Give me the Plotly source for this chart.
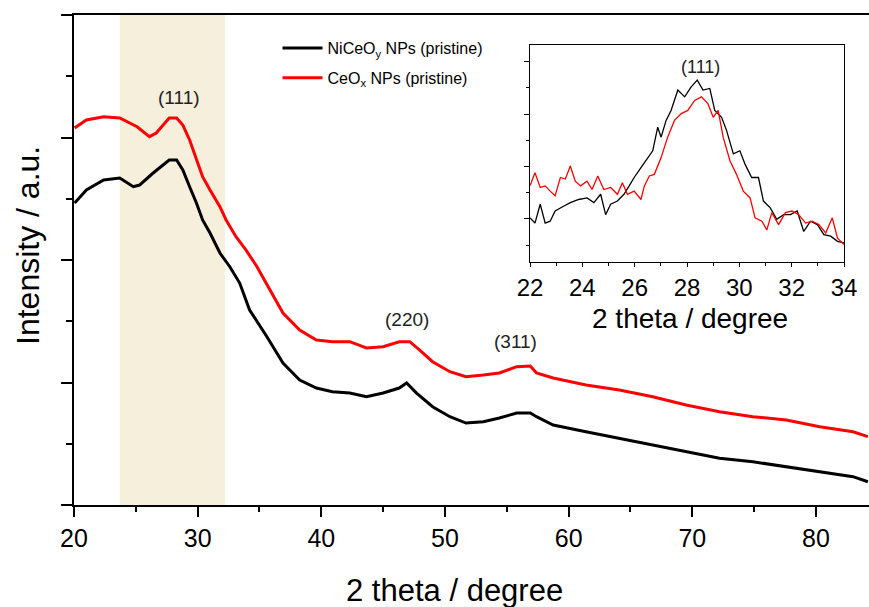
import plotly.graph_objects as go

# ---------------- data ----------------
# Main pattern: 2-theta (degree) and intensity (a.u.)
main_tt_red = [20.05, 21.0, 22.4, 23.7, 25.1, 26.1, 26.65, 27.7, 28.3, 28.8, 29.35, 29.9,
               30.4, 31.0, 31.8, 32.3, 33.1, 33.9, 34.8, 35.6, 36.9, 38.25, 39.6, 40.9,
               42.3, 43.65, 45.0, 46.3, 47.15, 47.96, 49.0, 50.4, 51.7, 53.1, 54.4, 55.8,
               56.9, 57.4, 58.75, 61.4, 64.1, 66.8, 69.5, 72.2, 74.9, 77.6, 80.3, 83.0, 84.2]
main_int_red = [3.078, 3.143, 3.170, 3.159, 3.088, 3.007, 3.037, 3.159, 3.159, 3.102, 2.980, 2.816,
                2.680, 2.571, 2.435, 2.327, 2.190, 2.082, 1.945, 1.800, 1.567, 1.429, 1.347, 1.333,
                1.333, 1.282, 1.292, 1.333, 1.333, 1.265, 1.170, 1.088, 1.047, 1.061, 1.078, 1.129,
                1.135, 1.078, 1.037, 0.980, 0.939, 0.884, 0.816, 0.762, 0.721, 0.694, 0.639, 0.598, 0.558]

main_tt_black = [20.05, 21.0, 22.4, 23.7, 24.8, 25.3, 26.4, 27.7, 28.3, 28.8, 29.35, 29.9,
                 30.4, 31.0, 31.8, 32.6, 33.4, 34.2, 35.6, 36.9, 38.25, 39.6, 40.9, 42.3,
                 43.65, 45.0, 46.3, 46.9, 47.7, 49.0, 50.4, 51.7, 53.1, 54.4, 55.8, 56.9,
                 57.4, 58.75, 61.4, 64.1, 66.8, 69.5, 72.2, 74.9, 77.6, 80.3, 83.0, 84.2]
main_int_black = [2.465, 2.571, 2.653, 2.669, 2.598, 2.612, 2.710, 2.816, 2.816, 2.735, 2.598, 2.465,
                  2.327, 2.220, 2.057, 1.945, 1.812, 1.592, 1.374, 1.159, 1.020, 0.955, 0.925, 0.914,
                  0.884, 0.914, 0.955, 0.996, 0.914, 0.802, 0.721, 0.669, 0.680, 0.710, 0.751, 0.751,
                  0.721, 0.653, 0.598, 0.544, 0.490, 0.435, 0.381, 0.353, 0.313, 0.272, 0.231, 0.190]

# Inset (zoom on the (111) reflection)
inset_tt_black = [22.0, 22.19, 22.39, 22.58, 22.77, 22.96, 23.28, 23.54, 23.86, 24.18, 24.44, 24.70,
                  24.89, 25.08, 25.34, 25.59, 25.79, 25.98, 26.24, 26.43, 26.69, 26.88, 27.01, 27.20,
                  27.39, 27.65, 27.91, 28.16, 28.39, 28.61, 28.87, 29.06, 29.32, 29.51, 29.77, 30.02,
                  30.22, 30.47, 30.73, 30.92, 31.18, 31.43, 31.69, 31.95, 32.21, 32.46, 32.72, 32.98,
                  33.23, 33.49, 33.75, 34.0]
inset_int_black = [1.02, 0.92, 1.28, 0.92, 0.955, 1.15, 1.24, 1.31, 1.37, 1.40, 1.31, 1.47,
                   1.08, 1.28, 1.34, 1.47, 1.63, 1.79, 1.98, 2.11, 2.30, 2.75, 2.56, 2.88,
                   3.07, 3.46, 3.33, 3.52, 3.65, 3.46, 3.49, 3.07, 2.94, 2.69, 2.24, 2.30,
                   2.04, 1.79, 1.79, 1.34, 1.21, 0.99, 1.08, 1.08, 1.15, 0.76, 0.955, 0.89,
                   0.70, 0.67, 0.57, 0.54]

inset_tt_red = [22.0, 22.19, 22.39, 22.58, 22.77, 22.96, 23.16, 23.35, 23.54, 23.73, 23.93, 24.18,
                24.37, 24.59, 24.82, 25.08, 25.34, 25.53, 25.72, 25.98, 26.24, 26.37, 26.56, 26.75,
                27.01, 27.26, 27.52, 27.78, 28.03, 28.29, 28.55, 28.80, 29.00, 29.19, 29.38, 29.64,
                29.89, 30.15, 30.41, 30.60, 30.86, 31.05, 31.24, 31.50, 31.76, 32.01, 32.27, 32.53,
                32.78, 33.04, 33.30, 33.55, 33.75, 34.0]
inset_int_red = [1.63, 1.88, 1.60, 1.63, 1.53, 1.44, 1.79, 1.76, 2.01, 1.72, 1.63, 1.72,
                 1.56, 1.82, 1.56, 1.60, 1.47, 1.69, 1.47, 1.53, 1.37, 1.63, 1.82, 1.85,
                 2.17, 2.56, 2.88, 3.01, 3.07, 3.26, 3.33, 3.20, 2.94, 3.07, 2.56, 2.11,
                 1.85, 1.53, 1.40, 1.02, 0.955, 0.79, 1.12, 0.89, 1.12, 1.15, 1.08, 0.92,
                 0.955, 0.89, 0.73, 1.02, 0.63, 0.51]

series_names = ["NiCeO<sub>y</sub> NPs (pristine)", "CeO<sub>x</sub> NPs (pristine)"]
peak_labels = ["(111)", "(220)", "(311)"]
peak_pos = [28.46, 46.95, 55.7]
peak_lvl = [3.33, 1.513, 1.333]
main_xticks = [20, 30, 40, 50, 60, 70, 80]
inset_xticks = [22, 24, 26, 28, 30, 32, 34]
highlight_band = [23.7, 32.2]

FONT = "Liberation Sans, Arial, sans-serif"
BEIGE = "#F5EFDC"

fig = go.Figure()

fig.add_trace(go.Scatter(x=main_tt_black, y=main_int_black, mode="lines",
                         line=dict(color="black", width=3),
                         name=series_names[0], legendgroup="a"))
fig.add_trace(go.Scatter(x=main_tt_red, y=main_int_red, mode="lines",
                         line=dict(color="#FF0000", width=3),
                         name=series_names[1], legendgroup="b"))
fig.add_trace(go.Scatter(x=inset_tt_black, y=inset_int_black, mode="lines",
                         line=dict(color="black", width=1.3), xaxis="x2", yaxis="y2",
                         showlegend=False))
fig.add_trace(go.Scatter(x=inset_tt_red, y=inset_int_red, mode="lines",
                         line=dict(color="#FF0000", width=1.3), xaxis="x2", yaxis="y2",
                         showlegend=False))

# shaded band and inset background
fig.add_shape(type="rect", xref="x", yref="y domain", x0=highlight_band[0], x1=highlight_band[1],
              y0=0, y1=1, fillcolor=BEIGE, line=dict(width=0), layer="below")
fig.add_shape(type="rect", xref="x2 domain", yref="y2 domain", x0=0, x1=1, y0=0, y1=1,
              fillcolor=BEIGE, line=dict(width=0), layer="below")

# peak labels
for lab, px, py in zip(peak_labels, peak_pos, peak_lvl):
    fig.add_annotation(x=px, y=py, xref="x", yref="y", text=lab, showarrow=False,
                       font=dict(family=FONT, size=19, color="#222"))
fig.add_annotation(x=28.5, y=3.90, xref="x2", yref="y2", text="(111)", showarrow=False,
                   font=dict(family=FONT, size=18, color="#222"))

# axis titles
fig.add_annotation(x=0.479, y=-0.1735, xref="paper", yref="paper", text="2 theta / degree",
                   showarrow=False, font=dict(family=FONT, size=31, color="black"),
                   xanchor="center", yanchor="middle")
fig.add_annotation(x=-0.0579, y=0.5306, xref="paper", yref="paper", text="Intensity / a.u.",
                   showarrow=False, textangle=-90, font=dict(family=FONT, size=32, color="black"),
                   xanchor="center", yanchor="middle")
fig.add_annotation(x=0.775, y=0.3816, xref="paper", yref="paper", text="2 theta / degree",
                   showarrow=False, font=dict(family=FONT, size=28, color="black"),
                   xanchor="center", yanchor="middle")

fig.update_layout(
    width=869, height=607, autosize=False,
    margin=dict(l=74, r=0, t=15, b=102, pad=0, autoexpand=False),
    paper_bgcolor="white", plot_bgcolor="white",
    font=dict(family=FONT, color="black"),
    xaxis=dict(range=[20, 84.29], tickvals=main_xticks, showgrid=False, zeroline=False,
               automargin=False,
               showline=True, linecolor="black", linewidth=2, mirror=True,
               ticks="outside", ticklen=10, tickwidth=2, tickcolor="black",
               minor=dict(dtick=5, ticks="outside", ticklen=5, tickwidth=2, tickcolor="black",
                          showgrid=False),
               tickfont=dict(family=FONT, size=25, color="black")),
    yaxis=dict(range=[0, 4], dtick=1, showticklabels=False, showgrid=False, zeroline=False,
               automargin=False,
               showline=True, linecolor="black", linewidth=2,
               ticks="outside", ticklen=11, tickwidth=2, tickcolor="black",
               minor=dict(dtick=0.5, ticks="outside", ticklen=6, tickwidth=2, tickcolor="black",
                          showgrid=False)),
    xaxis2=dict(domain=[0.5736, 0.9686], anchor="y2", range=[22, 34], tickvals=inset_xticks,
                automargin=False,
                showgrid=False, zeroline=False, showline=True, linecolor="black", linewidth=1,
                mirror=True, ticks="outside", ticklen=4, tickcolor="black",
                minor=dict(dtick=1, ticks="outside", ticklen=3, tickcolor="black", showgrid=False),
                tickfont=dict(family=FONT, size=24, color="black")),
    yaxis2=dict(domain=[0.4949, 0.9388], anchor="x2", range=[0.167, 4.32], dtick=1,
                automargin=False,
                showticklabels=False, showgrid=False, zeroline=False, showline=True,
                linecolor="black", linewidth=1, mirror=True,
                ticks="outside", ticklen=5, tickcolor="black",
                minor=dict(dtick=0.5, ticks="outside", ticklen=3, tickcolor="black", showgrid=False)),
    showlegend=True,
    legend=dict(x=0.256, y=0.967, xanchor="left", yanchor="top", bgcolor="rgba(0,0,0,0)",
                font=dict(family=FONT, size=16, color="black"), tracegroupgap=6,
                itemwidth=40),
)

fig.write_html(
    "out.html",
    config={"responsive": False, "displayModeBar": False},
    post_script=("document.body.style.margin='0';document.body.style.overflow='hidden';"
                 "Plotly.relayout('{plot_id}', {width: 869, height: 607});"),
)
